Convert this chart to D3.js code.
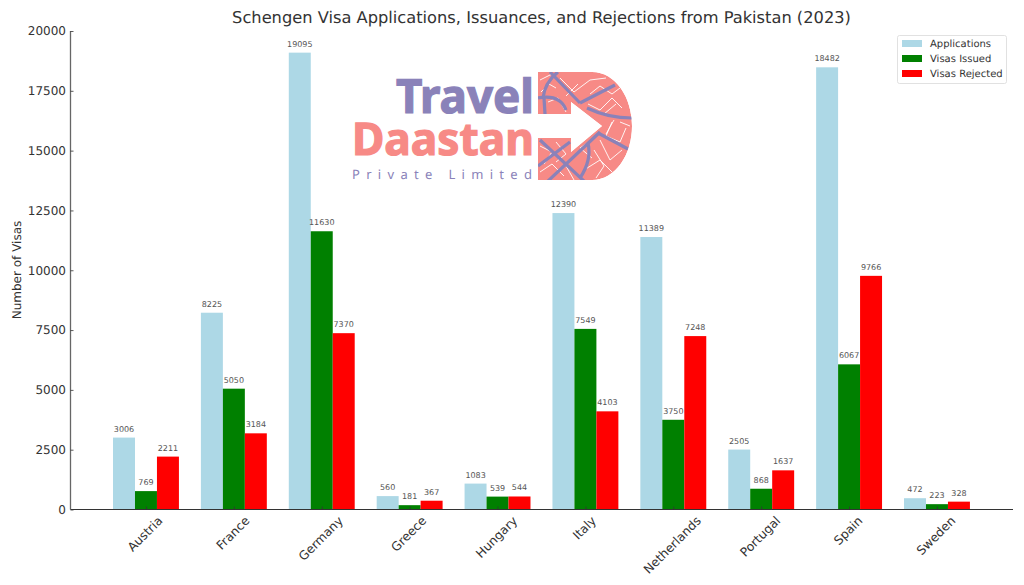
<!DOCTYPE html>
<html><head><meta charset="utf-8">
<script src="https://cdn.jsdelivr.net/npm/d3@7/dist/d3.min.js"></script>
<style>html,body{margin:0;background:#fff}svg{display:block}text{font-family:"DejaVu Sans",sans-serif;text-rendering:geometricPrecision}</style>
</head><body><svg id="c" width="1024" height="585"></svg>
<script>
const countries=["Austria","France","Germany","Greece","Hungary","Italy","Netherlands","Portugal","Spain","Sweden"];
const applications=[3006,8225,19095,560,1083,12390,11389,2505,18482,472];
const issued=[769,5050,11630,181,539,7549,3750,868,6067,223];
const rejected=[2211,3184,7370,367,544,4103,7248,1637,9766,328];
const yTicks=[0,2500,5000,7500,10000,12500,15000,17500,20000];
const seriesNames=["Applications","Visas Issued","Visas Rejected"];
const seriesColors=["#add8e6","#008000","#ff0000"];
const series=[applications,issued,rejected];
const ink="#333";
const svg=d3.select("#c");
const L=70.5,R=1013,T=31,B=509.5;
const x=d3.scaleLinear().domain([-0.853,9.865]).range([71,R]);
const y=d3.scaleLinear().domain([0,20000]).range([B,T]);
const bw=x(0.25)-x(0);

// logo (behind the marks)
const logo=svg.append("g").attr("class","logo");
const purple="#8a82b9",coral="#f78a86";
const defs=svg.append("defs");
const dShape="M538,72H592C616,72 632,98 632,126C632,154 616,180 592,180H538V138H571V152L602,126L571,102V114H538Z";
defs.append("clipPath").attr("id","dclip").append("path").attr("d",dShape);
const logoFont=(s,fs,w,f)=>s.style("font-family","'Noto Sans'").style("font-weight",w).style("font-size",fs).attr("fill",f);
logo.append("text").text("Travel").attr("x",396).attr("y",113).attr("textLength",138).attr("lengthAdjust","spacingAndGlyphs")
 .call(logoFont,"47px",700,purple).attr("stroke",purple).attr("stroke-width",1.2);
logo.append("text").text("Daastan").attr("x",352).attr("y",155).attr("textLength",182).attr("lengthAdjust","spacingAndGlyphs")
 .call(logoFont,"45px",700,coral).attr("stroke",coral).attr("stroke-width",1.2);
logo.append("text").text("Private Limited").attr("x",352).attr("y",179).attr("textLength",180)
 .call(logoFont,"13px",400,purple);
const dg=logo.append("g").attr("clip-path","url(#dclip)");
dg.append("path").attr("d",dShape).attr("fill",coral);
const thin=[
 "M540,80L552,74","M541,92L549,84L556,88","M560,78L574,92L590,80L606,78","M566,96L578,84","M548,102L558,98L566,112",
 "M590,94L600,86L612,94L620,88","M588,104L600,110L612,98L622,108","M604,114L616,104",
 "M612,122L606,136L620,142L626,128","M620,122L630,126","M600,140L610,160L622,150","M606,134L614,120",
 "M594,150L604,166L596,178","M584,170L600,160L612,172","M592,140L580,148L592,158",
 "M540,146L552,152L544,164","M556,142L566,154L556,162","M540,172L552,164L564,176","M566,166L574,180"];
thin.forEach(d=>dg.append("path").attr("d",d).attr("fill","none").attr("stroke","#fff").attr("stroke-width",.9));
const thick=["M550,72L580,103","M580,103L615,85","M538,98Q560,94 566,110","M543,98Q545,82 558,72","M544,98L545,114",
 "M587,108Q608,118 632,118","M598,133L628,149","M538,166L570,142","M540,140L585,182","M547,182L600,132","M588,143Q592,160 580,178"];
thick.forEach(d=>dg.append("path").attr("d",d).attr("fill","none").attr("stroke",purple).attr("stroke-width",3.2));

// bars
series.forEach((vals,s)=>{
  const off=(s-1)*0.25;
  svg.append("g").selectAll("rect").data(vals).join("rect")
    .attr("x",(d,i)=>x(i+off)-bw/2).attr("width",bw)
    .attr("y",d=>y(d)).attr("height",d=>y(0)-y(d)).attr("fill",seriesColors[s]);
  svg.append("g").selectAll("text").data(vals).join("text")
    .attr("x",(d,i)=>x(i+off)).attr("y",d=>y(d)-6).attr("text-anchor","middle")
    .style("font-size","8px").attr("fill","#555").text(d=>d);
});

// axes
const yAxis=d3.axisLeft(y).tickValues(yTicks).tickFormat(d3.format("d")).tickSize(-3).tickPadding(4.5);
const gy=svg.append("g").attr("transform",`translate(${L},0)`).call(yAxis);
const xAxis=d3.axisBottom(x).tickValues(d3.range(countries.length)).tickFormat(i=>countries[i]).tickSize(-3);
const gx=svg.append("g").attr("transform",`translate(0,${B})`).call(xAxis);
[gx,gy].forEach(g=>{
  g.selectAll("line").attr("stroke",ink).attr("stroke-width",.8);
  g.selectAll("text").style("font-size","12px").attr("fill",ink);
});
gy.select(".domain").attr("d",`M0,${B}V${T}`).attr("stroke","#666").attr("stroke-width",1.3);
gx.select(".domain").attr("d",`M${L},0H${R}`).attr("stroke",ink).attr("stroke-width",1.1);
gx.selectAll("text").style("font-size","12.3px").attr("text-anchor","middle").attr("dy",".35em").attr("y",0)
  .attr("transform",function(){const r=(this.getComputedTextLength()+14)*Math.SQRT1_2/2;return `translate(-1.5,${4+r}) rotate(-45)`;});

svg.append("text").attr("x",541.5).attr("y",23).attr("text-anchor","middle").style("font-size","16.25px").attr("fill",ink)
  .text("Schengen Visa Applications, Issuances, and Rejections from Pakistan (2023)");
svg.append("text").attr("transform","translate(21,270) rotate(-90)").attr("text-anchor","middle").style("font-size","12px").attr("fill",ink).text("Number of Visas");

// legend
const lg=svg.append("g").attr("transform","translate(897.5,35.5)");
lg.append("rect").attr("width",109).attr("height",48).attr("rx",2).attr("fill","#fff").attr("fill-opacity",.8).attr("stroke","#d9d9d9").attr("stroke-width",.8);
seriesNames.forEach((n,i)=>{
  lg.append("rect").attr("x",4.5).attr("y",4.5+i*15).attr("width",20).attr("height",7).attr("fill",seriesColors[i]);
  lg.append("text").attr("x",32.5).attr("y",11.5+i*15).style("font-size","10px").attr("fill",ink).text(n);
});
</script></body></html>
